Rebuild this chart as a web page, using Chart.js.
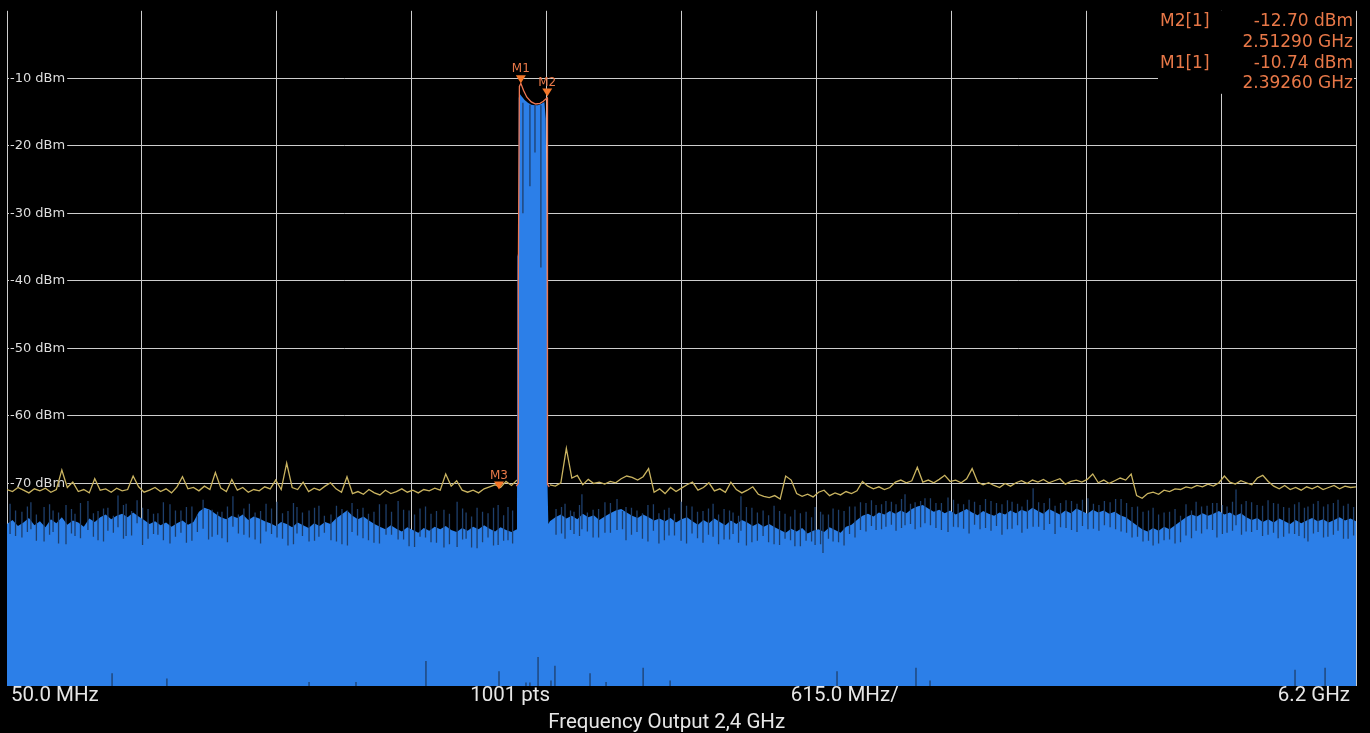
<!DOCTYPE html>
<html>
<head>
<meta charset="utf-8">
<title>Frequency Output 2,4 GHz</title>
<script src="https://cdn.jsdelivr.net/npm/chart.js@4.4.1/dist/chart.umd.min.js"></script>
<style>
  html, body { margin: 0; padding: 0; background: #000; }
</style>
</head>
<body>
<canvas id="spectrum" width="1370" height="733"></canvas>
<script>
// Sweep settings (MHz / dBm)
const SWEEP_START = 50;
const SWEEP_STOP = 6200;
const SPAN_PER_DIV = 615;
const FLOOR_STEP = 25;          // spacing of the read-off noise floor samples
const REF_TOP = 0;
const REF_BOTTOM = -100;

// Max-hold trace (yellow), one value per FLOOR_STEP, null where the carrier is
const maxHold = [
  -70.9,-71.2,-70.6,-71.0,-71.4,-70.8,-71.1,-70.7,-71.3,-70.9,-68.0,-70.6,-69.8,-71.2,-70.9,-71.4,-69.3,-71.0,-70.8,-71.3,
  -70.7,-71.1,-70.9,-68.9,-70.5,-71.3,-71.0,-70.6,-71.2,-70.8,-71.4,-70.5,-69.0,-70.8,-70.6,-71.1,-70.4,-70.9,-68.4,-70.7,
  -71.2,-69.4,-71.0,-70.6,-71.3,-70.9,-71.1,-70.5,-70.8,-69.5,-70.9,-67.0,-70.6,-70.9,-69.8,-71.2,-70.7,-71.0,-70.4,-69.9,
  -70.8,-71.3,-69.0,-71.5,-71.2,-71.6,-70.9,-71.4,-71.7,-71.0,-71.5,-71.2,-70.8,-71.3,-71.0,-71.4,-70.9,-71.1,-70.7,-71.0,
  -68.6,-70.4,-69.6,-71.0,-71.3,-71.0,-71.4,-70.8,-70.5,-70.2,-70.6,-69.7,-70.3,-69.5, null, null, null, null, null,-70.2,
  -70.4,-69.9,-64.8,-69.2,-68.8,-70.2,-69.4,-70.0,-69.8,-70.1,-69.7,-69.9,-69.3,-68.9,-69.1,-69.5,-69.0,-67.8,-71.3,-70.8,
  -71.5,-70.6,-71.2,-70.7,-70.2,-69.8,-71.0,-70.6,-69.9,-71.1,-70.8,-71.3,-69.8,-70.9,-71.4,-71.0,-70.5,-71.6,-71.9,-72.1,
  -71.8,-72.3,-68.9,-69.5,-71.5,-71.9,-71.6,-72.0,-71.3,-71.0,-71.8,-71.4,-71.7,-71.2,-71.5,-71.1,-69.7,-70.4,-70.8,-70.5,
  -70.9,-70.6,-69.8,-69.5,-69.9,-69.6,-67.6,-69.8,-69.5,-69.9,-69.4,-68.8,-69.7,-69.5,-69.9,-69.3,-67.8,-69.8,-70.2,-69.9,
  -70.3,-70.6,-70.0,-70.4,-69.9,-69.6,-70.0,-69.5,-69.8,-69.4,-69.9,-69.6,-69.3,-70.1,-69.7,-69.5,-69.8,-69.4,-68.6,-69.9,
  -69.5,-70.0,-69.6,-69.2,-69.5,-68.6,-71.8,-72.2,-71.5,-71.3,-71.6,-71.0,-71.2,-70.8,-70.9,-70.5,-70.7,-70.3,-70.5,-70.1,
  -70.4,-69.9,-68.9,-69.8,-70.1,-69.6,-69.9,-70.2,-69.2,-68.8,-69.7,-70.4,-70.8,-70.3,-70.9,-70.6,-71.0,-70.5,-70.8,-70.4,
  -70.9,-70.6,-70.3,-70.8,-70.4,-70.6,-70.5
];

// Clear/write trace (blue fill), same grid as maxHold
const clearWrite = [
  -76.0,-75.4,-76.3,-75.8,-75.1,-76.2,-75.6,-76.5,-75.3,-75.9,-75.0,-76.1,-75.5,-75.8,-76.4,-75.2,-75.7,-75.0,-74.6,-75.3,
  -74.8,-74.5,-75.0,-74.3,-74.9,-75.4,-76.0,-75.6,-76.2,-75.8,-76.4,-75.9,-75.5,-76.1,-75.7,-74.2,-73.6,-73.9,-74.5,-75.0,
  -75.3,-74.8,-75.1,-74.6,-75.4,-74.9,-75.2,-75.6,-75.9,-76.3,-75.7,-76.0,-76.5,-75.8,-76.2,-76.6,-75.9,-76.3,-75.7,-76.0,
  -75.2,-74.6,-74.0,-74.8,-75.3,-74.9,-75.5,-76.0,-76.4,-76.8,-76.2,-76.7,-77.1,-76.5,-76.9,-77.3,-76.6,-77.0,-76.4,-76.8,
  -76.3,-76.9,-77.2,-76.6,-77.0,-76.4,-76.8,-76.2,-76.7,-77.1,-76.5,-76.9,-77.2,-76.8, null, null, null, null, null,-75.6,
  -75.0,-74.6,-75.2,-74.8,-75.3,-74.5,-75.0,-74.7,-75.4,-74.9,-74.4,-74.0,-73.8,-74.3,-74.8,-75.1,-74.6,-75.0,-75.5,-75.2,
  -75.6,-75.1,-75.8,-75.3,-75.0,-75.6,-76.1,-75.4,-75.9,-75.2,-75.7,-76.2,-75.5,-76.0,-75.4,-75.8,-76.3,-75.9,-76.4,-76.0,
  -76.5,-76.9,-77.3,-76.7,-77.1,-76.6,-77.4,-77.0,-76.8,-77.2,-76.5,-76.9,-77.3,-76.4,-76.1,-75.4,-74.8,-74.5,-74.9,-74.3,
  -74.6,-74.1,-74.5,-74.0,-74.4,-73.8,-73.4,-73.2,-73.7,-74.2,-73.9,-74.4,-74.0,-74.6,-74.2,-73.8,-74.3,-74.7,-74.1,-74.5,
  -74.8,-74.3,-74.6,-74.0,-74.4,-73.9,-74.2,-73.6,-74.1,-74.5,-73.8,-74.2,-74.6,-74.0,-74.4,-73.7,-74.1,-74.5,-73.9,-74.3,
  -74.0,-74.5,-74.2,-74.7,-75.0,-75.6,-76.2,-76.8,-77.1,-76.6,-77.0,-76.4,-76.8,-76.2,-75.6,-75.0,-74.6,-74.9,-74.4,-74.8,
  -74.5,-74.1,-74.6,-74.3,-74.8,-74.4,-75.0,-75.4,-75.1,-75.7,-75.3,-75.8,-75.2,-75.6,-76.0,-75.4,-75.9,-75.5,-75.1,-75.6,
  -75.3,-75.8,-75.4,-75.0,-75.5,-75.2,-75.6
];

// Carrier, clear/write trace
const carrierFreq  = [2377, 2380, 2383, 2386, 2395, 2410, 2425, 2440, 2455, 2470, 2485, 2500, 2506, 2510, 2514, 2518];
const carrierLevel = [-36.0, -36.5, -13.0, -12.2, -12.6, -13.2, -13.6, -13.9, -14.0, -14.0, -13.8, -13.5, -16.0, -30.0, -70.0, -76.0];

// Carrier, second trace (orange)
const trace2Freq  = [2372, 2380, 2381, 2386, 2392.6, 2405, 2420, 2440, 2460, 2480, 2495, 2505, 2512.9, 2514, 2522];
const trace2Level = [-70.4, -70.0, -40.0, -11.2, -10.74, -11.8, -12.8, -13.5, -13.8, -13.7, -13.4, -13.1, -12.9, -70.1, -70.5];

// Dark sample spikes of the clear/write trace: frequency, upper and lower end
const spikeFreq = [
  64,118,159,219,260,319,360,419,465,510,556,593,643,693,738,793,843,893,944,985,
  1030,1080,1130,1181,1231,1281,1331,1372,1427,1472,1527,1577,1623,1673,1723,1778,1833,1883,1933,1983,
  2042,2102,2143,2193,2243,2289,2334,2402,2434,2457,2484,2553,2594,2635,2671,2722,2776,2831,2872,2922,
  2972,3022,3068,3123,3173,3223,3269,3319,3360,3396,3446,3497,3547,3597,3642,3693,3734,3770,3816,3866,
  3916,3966,4012,4057,4103,4144,4190,4235,4285,4340,4386,4436,4486,4536,4586,4632,4677,4728,4778,4828,
  4878,4928,4978,5028,5079,5129,5179,5229,5275,5325,5375,5425,5471,5521,5566,5612,5653,5699,5749,5799,
  5845,5895,5940,5981,6027,6072,6118,6164
];
const spikeHigh = [
  -73.0,-74.2,-72.8,-73.5,-74.0,-73.2,-74.5,-72.6,-74.1,-73.6,-71.8,-73.0,-72.5,-73.8,-74.4,-73.1,-74.0,-73.4,-72.4,-73.9,
  -74.2,-71.9,-73.7,-74.3,-73.0,-72.7,-74.1,-73.5,-74.0,-73.3,-74.6,-73.8,-72.9,-73.6,-74.2,-73.1,-72.6,-74.0,-73.7,-74.5,
  -73.9,-72.7,-74.3,-73.6,-74.4,-73.2,-73.5,-13.6,-13.9,-14.0,-14.0,-73.8,-73.0,-74.2,-71.6,-73.9,-72.8,-72.3,-73.5,-74.0,
  -73.2,-74.4,-73.6,-72.7,-73.4,-74.1,-73.0,-73.8,-74.3,-71.9,-73.6,-74.0,-73.3,-74.5,-73.9,-74.2,-73.5,-74.6,-73.7,-74.1,
  -73.4,-72.9,-73.2,-72.6,-73.1,-71.6,-72.8,-72.2,-72.9,-72.1,-73.0,-72.4,-73.2,-72.6,-73.1,-72.7,-73.4,-70.7,-72.9,-73.3,
  -72.5,-73.0,-72.2,-73.2,-72.8,-72.3,-73.5,-74.2,-73.6,-74.3,-73.8,-73.1,-72.7,-73.3,-72.9,-73.4,-70.9,-72.6,-73.2,-72.5,
  -73.0,-73.6,-72.8,-73.4,-72.6,-73.1,-72.4,-73.0
];
const spikeLow = [
  -77.5,-78.0,-76.8,-78.6,-77.2,-79.0,-77.8,-76.9,-78.4,-77.0,-76.5,-77.8,-75.9,-78.2,-77.6,-78.9,-77.3,-78.5,-76.7,-77.9,
  -78.1,-76.4,-77.6,-78.3,-77.1,-78.0,-79.2,-77.4,-78.6,-77.9,-78.4,-79.0,-77.2,-78.1,-78.8,-77.6,-78.3,-79.3,-77.9,-78.7,
  -79.5,-79.4,-78.2,-79.6,-78.0,-79.1,-78.4,-30.0,-26.0,-21.0,-38.0,-77.6,-78.2,-77.5,-76.8,-78.0,-77.3,-76.9,-78.4,-77.2,
  -78.6,-78.9,-77.7,-78.5,-77.4,-78.8,-77.9,-78.3,-77.5,-77.0,-78.7,-77.8,-79.0,-78.2,-79.3,-78.5,-79.1,-80.3,-78.6,-79.2,
  -78.0,-77.1,-76.9,-76.4,-77.0,-76.2,-76.8,-75.9,-76.6,-77.2,-76.5,-77.4,-76.8,-77.0,-77.6,-76.7,-77.3,-76.4,-76.9,-77.5,
  -76.6,-77.2,-76.8,-77.0,-76.5,-77.1,-78.0,-78.6,-79.2,-78.4,-78.9,-77.7,-77.0,-76.8,-78.0,-77.3,-76.2,-77.1,-76.9,-77.6,
  -78.1,-77.4,-77.8,-78.6,-77.2,-77.9,-77.0,-78.2
];

// Second, in-between row of smaller spikes
const spike2Freq = [
  89,143,184,244,285,344,385,444,490,535,581,618,668,718,763,818,868,918,969,1010,
  1055,1105,1155,1206,1256,1306,1356,1397,1452,1497,1552,1602,1648,1698,1748,1803,1858,1908,1958,2008,
  2067,2127,2168,2218,2268,2314,2355,
  2578,2619,2660,2696,2747,2801,2856,2897,2947,2997,3047,3093,3148,3198,3248,3294,3344,3385,3421,3471,
  3522,3572,3622,3667,3718,3759,3795,3841,3891,3941,3991,4037,4082,4128,4169,4215,4260,4310,4365,4411,
  4461,4511,4561,4611,4657,4702,4753,4803,4853,4903,4953,5003,5053,5104,5154,5204,5254,5300,5350,5400,
  5450,5496,5546,5591,5637,5678,5724,5774,5824,5870,5920,5965,6006,6052,6097,6143,6189
];
const spike2High = [
  -74.0,-73.4,-74.6,-73.1,-74.3,-73.8,-72.9,-74.4,-73.7,-74.8,-73.2,-74.1,-73.6,-74.5,-72.8,-74.0,-73.5,-74.7,-73.9,-74.2,
  -73.4,-74.6,-73.0,-74.1,-73.7,-74.4,-72.9,-74.3,-73.6,-74.8,-73.3,-74.0,-73.8,-74.5,-73.1,-74.2,-73.9,-74.6,-73.4,-74.1,
  -74.5,-73.7,-74.9,-74.2,-73.6,-74.7,-74.0,
  -73.5,-74.0,-73.2,-74.3,-73.8,-72.9,-74.1,-73.6,-74.4,-73.1,-73.9,-74.5,-73.3,-74.2,-73.7,-74.6,-74.0,-74.8,-73.5,-74.3,
  -74.7,-74.1,-74.9,-74.4,-75.0,-74.2,-74.6,-73.9,-73.4,-72.8,-72.5,-73.1,-72.7,-72.3,-73.0,-72.6,-72.2,-72.9,-72.4,-73.1,
  -72.7,-72.3,-72.9,-72.5,-73.0,-72.4,-72.8,-72.2,-72.9,-72.6,-72.4,-73.0,-72.6,-72.3,-72.9,-73.4,-74.0,-74.6,-74.2,-74.8,
  -74.0,-73.4,-72.9,-73.2,-72.7,-73.1,-72.8,-73.3,-72.9,-73.5,-73.1,-73.6,-73.0,-73.4,-72.9,-73.3,-73.5
];
const spike2Low = [
  -77.8,-77.2,-78.5,-77.6,-78.9,-77.4,-78.1,-77.9,-78.6,-77.3,-78.2,-77.7,-79.1,-77.5,-78.4,-77.9,-78.8,-77.2,-78.3,-77.6,
  -78.7,-77.4,-78.0,-78.9,-77.5,-78.2,-79.0,-77.8,-78.5,-77.3,-78.6,-79.2,-77.7,-78.4,-78.9,-77.6,-78.3,-79.4,-78.0,-78.8,
  -79.0,-78.3,-79.5,-78.7,-79.2,-78.5,-78.9,
  -77.4,-76.9,-77.8,-77.1,-78.0,-77.3,-76.8,-77.6,-78.2,-77.0,-78.4,-77.7,-78.9,-78.1,-77.6,-79.0,-78.3,-78.8,-79.2,-78.5,
  -78.7,-79.1,-78.4,-79.3,-78.6,-79.0,-78.2,-78.7,-77.5,-76.9,-76.3,-76.8,-76.1,-76.6,-76.0,-76.5,-76.2,-76.9,-76.4,-76.7,
  -76.1,-76.6,-76.3,-76.8,-76.2,-76.7,-76.4,-76.0,-76.5,-76.9,-76.3,-76.7,-76.2,-76.8,-77.3,-77.9,-78.5,-78.9,-78.3,-78.7,
  -78.1,-77.4,-76.9,-77.5,-77.0,-77.6,-77.2,-77.8,-77.3,-77.9,-77.5,-78.1,-77.4,-78.0,-77.6,-78.2,-77.7
];

// Short spikes rising from the bottom of the screen
const baseSpikeFreq = [529, 779, 1427, 1641, 1960, 2293, 2416, 2434, 2471, 2530, 2548, 2708, 2781, 2950, 3073, 3834, 4194, 4258, 5922, 6059];
const baseSpikeHigh = [-98.1, -98.9, -99.4, -99.4, -96.3, -97.8, -99.5, -99.5, -95.7, -99.2, -97.0, -98.1, -99.4, -97.3, -99.2, -97.8, -97.3, -99.2, -97.6, -97.3];

// Markers
const markerNames = ["M1", "M2", "M3"];
const markerFreq  = [2392.6, 2512.9, 2293];
const markerLevel = [-10.74, -12.70, -70.9];
const markerTable = [1, 0];     // rows shown in the readout, top first

// Annotation under the screen
const footLabels = ["50.0 MHz", "1001 pts", "615.0 MHz/", "6.2 GHz"];
const footPos    = [0, 0.373, 0.621, 1];
const xTitle = "Frequency Output 2,4 GHz";

const COLORS = {
  grid: "#cdcdcd",
  text: "#e6e6e6",
  fill: "#2c7fe8",
  spike: "#1e3f6c",
  maxHold: "#c9b360",
  trace2: "#ef7752",
  marker: "#f4772a",
  markerText: "#e87848",
};

/**
 * Turn a value list on the FLOOR_STEP grid into {x, y} points.
 */
function gridPoints(values) {
  return values.map((v, i) => ({ x: SWEEP_START + i * FLOOR_STEP, y: v }));
}

function pairPoints(freqs, levels) {
  return freqs.map((f, i) => ({ x: f, y: levels[i] }));
}

/**
 * Vertical segments, separated by gaps.
 */
function segments(freqs, highs, lows) {
  const pts = [];
  freqs.forEach((f, i) => {
    pts.push({ x: f, y: highs[i] }, { x: f, y: Array.isArray(lows) ? lows[i] : lows }, { x: f, y: null });
  });
  return pts;
}

const bluePoints = gridPoints(clearWrite)
  .filter((p) => p.y !== null)
  .concat(pairPoints(carrierFreq, carrierLevel))
  .sort((a, b) => a.x - b.x);

const spikePoints = segments(spikeFreq, spikeHigh, spikeLow)
  .concat(segments(spike2Freq, spike2High, spike2Low))
  .concat(segments(baseSpikeFreq, baseSpikeHigh, REF_BOTTOM));

const gridTicks = [];
for (let f = SWEEP_START; f <= SWEEP_STOP; f += SPAN_PER_DIV) gridTicks.push({ value: f });

const analyzerDecor = {
  id: "analyzerDecor",
  beforeDatasetsDraw(chart) {
    const { ctx, chartArea: a } = chart;
    // readout box hides the grid behind it
    ctx.save();
    ctx.fillStyle = "#000";
    ctx.fillRect(a.right - 198, a.top, 196, 83);
    ctx.restore();
  },
  afterDatasetsDraw(chart) {
    const { ctx, chartArea: a, scales: { x, y } } = chart;
    ctx.save();
    ctx.font = "12px 'DejaVu Sans'";
    ctx.textAlign = "center";
    ctx.textBaseline = "alphabetic";
    markerNames.forEach((name, i) => {
      const px = x.getPixelForValue(markerFreq[i]);
      const py = y.getPixelForValue(markerLevel[i]);
      ctx.fillStyle = COLORS.marker;
      ctx.beginPath();
      ctx.moveTo(px - 5, py - 8);
      ctx.lineTo(px + 5, py - 8);
      ctx.lineTo(px, py);
      ctx.closePath();
      ctx.fill();
      ctx.fillStyle = COLORS.markerText;
      ctx.fillText(name, px, py - 11);
    });

    // marker readout
    ctx.font = "17px 'DejaVu Sans'";
    ctx.textBaseline = "middle";
    ctx.fillStyle = COLORS.markerText;
    let row = 0;
    markerTable.forEach((m) => {
      const yy = a.top + 11 + row * 20.7;
      ctx.textAlign = "left";
      ctx.fillText(markerNames[m] + "[1]", a.right - 196, yy);
      ctx.textAlign = "right";
      ctx.fillText(markerLevel[m].toFixed(2) + " dBm", a.right - 3, yy);
      ctx.fillText((markerFreq[m] / 1000).toFixed(5) + " GHz", a.right - 3, yy + 20.7);
      row += 2;
    });
    ctx.restore();
  },
  afterDraw(chart) {
    const { ctx, chartArea: a } = chart;
    const w = a.right - a.left;
    ctx.save();
    ctx.font = "20.5px Roboto";
    ctx.fillStyle = COLORS.text;
    ctx.textBaseline = "alphabetic";
    footLabels.forEach((t, i) => {
      const p = footPos[i];
      ctx.textAlign = p === 0 ? "left" : p === 1 ? "right" : "center";
      const xx = a.left + p * w + (p === 0 ? 4 : p === 1 ? -6 : 0);
      ctx.fillText(t, xx, a.bottom + 15);
    });
    // axis caption sits a little left of centre on the instrument screen
    ctx.textAlign = "center";
    ctx.fillText(xTitle, a.left + 0.489 * w, a.bottom + 42);
    ctx.restore();
  },
};

new Chart(document.getElementById("spectrum"), {
  type: "line",
  data: {
    datasets: [
      {
        label: "Trc 2",
        data: pairPoints(trace2Freq, trace2Level),
        borderColor: COLORS.trace2,
        borderWidth: 1.3,
        pointRadius: 0,
      },
      {
        label: "samples",
        data: spikePoints,
        borderColor: COLORS.spike,
        borderWidth: 1.3,
        pointRadius: 0,
        spanGaps: false,
      },
      {
        label: "Max hold",
        data: gridPoints(maxHold),
        borderColor: COLORS.maxHold,
        borderWidth: 1.3,
        pointRadius: 0,
        spanGaps: false,
      },
      {
        label: "Clear write",
        data: bluePoints,
        borderWidth: 0,
        backgroundColor: COLORS.fill,
        fill: "start",
        pointRadius: 0,
      },
    ],
  },
  options: {
    responsive: false,
    animation: false,
    events: [],
    layout: { padding: { left: 1, right: 14, top: 9, bottom: 47 } },
    plugins: { legend: { display: false }, tooltip: { enabled: false } },
    scales: {
      x: {
        type: "linear",
        min: SWEEP_START,
        max: SWEEP_STOP,
        offset: false,
        afterBuildTicks: (scale) => { scale.ticks = gridTicks.map((t) => ({ value: t.value })); },
        grid: { color: COLORS.grid, lineWidth: 1, drawTicks: false, offset: false },
        border: { display: false },
        ticks: { display: false },
      },
      y: {
        type: "linear",
        min: REF_BOTTOM,
        max: REF_TOP,
        beginAtZero: false,
        grid: { color: COLORS.grid, lineWidth: 1, drawTicks: false },
        border: { display: false },
        ticks: {
          stepSize: 10,
          mirror: true,
          padding: 3,
          color: "#dedede",
          font: { family: "'DejaVu Sans'", size: 13 },
          showLabelBackdrop: true,
          backdropColor: "#000",
          backdropPadding: { top: 0, bottom: 0, left: 1, right: 2 },
          callback: (v) => (v <= -10 && v >= -70 ? v + " dBm" : null),
        },
      },
    },
  },
  plugins: [analyzerDecor],
});
</script>
</body>
</html>
